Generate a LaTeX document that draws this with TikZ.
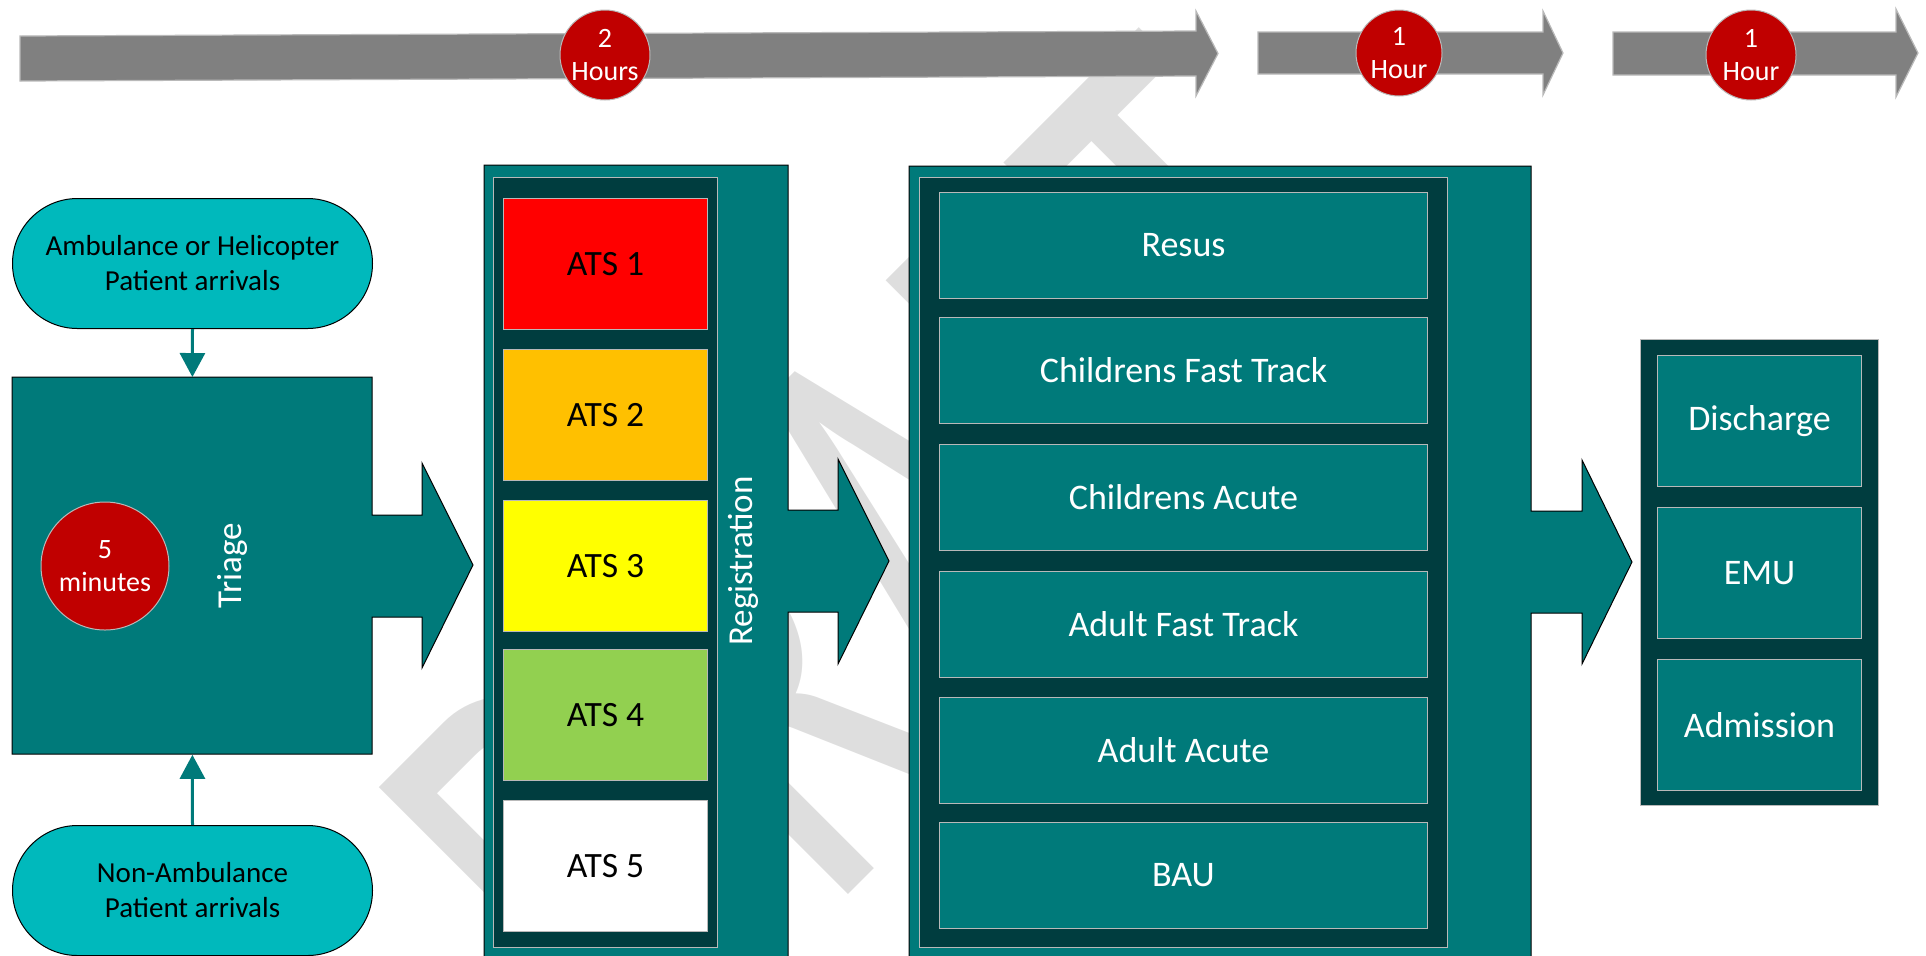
\documentclass[tikz,border=0pt]{standalone}
\usepackage{fontspec}
\setmainfont{Carlito}
\usetikzlibrary{arrows.meta}
\definecolor{tealc}{RGB}{0,122,122}
\definecolor{darkpanel}{RGB}{0,61,63}
\definecolor{pillc}{RGB}{0,185,188}
\definecolor{redc}{RGB}{192,0,0}
\definecolor{arrowgray}{RGB}{128,128,128}
\definecolor{wmc}{RGB}{222,222,222}
\definecolor{lightedge}{RGB}{185,185,185}
\definecolor{atsone}{RGB}{255,0,0}
\definecolor{atstwo}{RGB}{255,192,0}
\definecolor{atsthree}{RGB}{255,255,0}
\definecolor{atsfour}{RGB}{146,208,80}
\definecolor{atsfive}{RGB}{255,255,255}
\begin{document}
\begin{tikzpicture}[x=0.5pt,y=-0.5pt,
  timearrow/.style={fill=arrowgray, draw=lightedge, line width=0.6pt},
  timecircle/.style={circle, fill=redc, draw=lightedge, line width=0.5pt, inner sep=0, text=white, align=center, font=\fontsize{14}{16.5}\selectfont},
  blockshape/.style={fill=tealc, draw=black, line width=0.5pt},
  panel/.style={fill=darkpanel, draw=lightedge, line width=0.5pt},
  atsbox/.style={draw=lightedge, line width=0.5pt, anchor=north west, inner sep=0, minimum width=102pt, minimum height=65.5pt, text=black, font=\fontsize{17.8}{20}\selectfont},
  areabox/.style={fill=tealc, draw=lightedge, line width=0.5pt, anchor=north west, inner sep=0, minimum width=244pt, minimum height=53pt, text=white, font=\fontsize{18}{20}\selectfont},
  outbox/.style={fill=tealc, draw=lightedge, line width=0.5pt, anchor=north west, inner sep=0, minimum width=102pt, minimum height=65.5pt, text=white, font=\fontsize{18}{20}\selectfont},
  pill/.style={fill=pillc, draw=black, line width=0.5pt, rounded corners=32.5pt, anchor=north west, inner sep=0, minimum width=180pt, minimum height=65pt, align=center, font=\fontsize{14.5}{17.5}\selectfont},
  conn/.style={draw=tealc, line width=1.5pt, -{Triangle[width=12.5pt,length=12pt]}},
  vlabel/.style={rotate=90, text=white, font=\fontsize{17.5}{20}\selectfont, inner sep=0}
]
\useasboundingbox (0,0) rectangle (1926,955);
\clip (0,0) rectangle (1926,955);

% watermark
\node[rotate=45, xscale=0.65, anchor=base west, inner sep=0, text=wmc, font=\fontsize{317.5}{317.5}\selectfont] (wmark) at (647.5,1095.5) {DRAFT};

% time arrows
\path[timearrow] (20,36) -- (1196,31) -- (1196,11) -- (1218,53.5) -- (1196,96) -- (1196,76) -- (20,81) -- cycle;
\path[timearrow] (1258,32) -- (1543,32) -- (1543,11) -- (1563,53) -- (1543,95) -- (1543,74) -- (1258,74) -- cycle;
\path[timearrow] (1613,32) -- (1896,32) -- (1896,9) -- (1918,53) -- (1896,97) -- (1896,75) -- (1613,75) -- cycle;
\node[timecircle, minimum size=45pt] (t2h) at (605,55) {2\\Hours};
\node[timecircle, minimum size=43pt] (t1h) at (1399,53) {1\\Hour};
\node[timecircle, minimum size=45pt] (t1hb) at (1751,55) {1\\Hour};

% arrivals and triage
\node[pill] (amb) at (12,198) {Ambulance or Helicopter\\Patient arrivals};
\node[pill] (nonamb) at (12,825) {Non-Ambulance\\Patient arrivals};
\path[blockshape] (12,377) -- (372,377) -- (372,515) -- (422,515) -- (422,463) -- (473,565) -- (422,668) -- (422,617) -- (372,617) -- (372,754) -- (12,754) -- cycle;
\node[anchor=north west, inner sep=0, minimum width=180pt, minimum height=188.5pt] (triage) at (12,377) {};
\node[timecircle, minimum size=64pt] (fivemin) at (105,566) {5\\minutes};
\node[vlabel] (triagelabel) at (232,566) {Triage};
\draw[conn] (amb.south) -- (triage.north);
\draw[conn] (nonamb.north) -- (triage.south);

% registration
\path[blockshape] (484,165) -- (788,165) -- (788,510) -- (838,510) -- (838,459) -- (889,561) -- (838,664) -- (838,612) -- (788,612) -- (788,970) -- (484,970) -- cycle;
\path[panel] (493,177) rectangle (717,947);
\node[atsbox, fill=atsone] (ats1) at (503,198) {ATS 1};
\node[atsbox, fill=atstwo] (ats2) at (503,349) {ATS 2};
\node[atsbox, fill=atsthree] (ats3) at (503,500) {ATS 3};
\node[atsbox, fill=atsfour] (ats4) at (503,649) {ATS 4};
\node[atsbox, fill=atsfive] (ats5) at (503,800) {ATS 5};
\node[vlabel] (reglabel) at (743,561) {Registration};

% treatment areas
\path[blockshape] (909,166) -- (1531,166) -- (1531,511) -- (1582,511) -- (1582,460) -- (1632,562) -- (1582,664) -- (1582,613) -- (1531,613) -- (1531,970) -- (909,970) -- cycle;
\path[panel] (919.5,177) rectangle (1447,947);
\node[areabox] (resus) at (939,192) {Resus};
\node[areabox] (cft) at (939,317) {Childrens Fast Track};
\node[areabox] (cacute) at (939,444) {Childrens Acute};
\node[areabox] (aft) at (939,571) {Adult Fast Track};
\node[areabox] (aacute) at (939,697) {Adult Acute};
\node[areabox] (bau) at (939,822) {BAU};

% outcomes
\path[panel] (1640,339) rectangle (1878,805);
\node[outbox] (discharge) at (1657,355) {Discharge};
\node[outbox] (emu) at (1657,507) {EMU};
\node[outbox] (admission) at (1657,659) {Admission};
\end{tikzpicture}
\end{document}
